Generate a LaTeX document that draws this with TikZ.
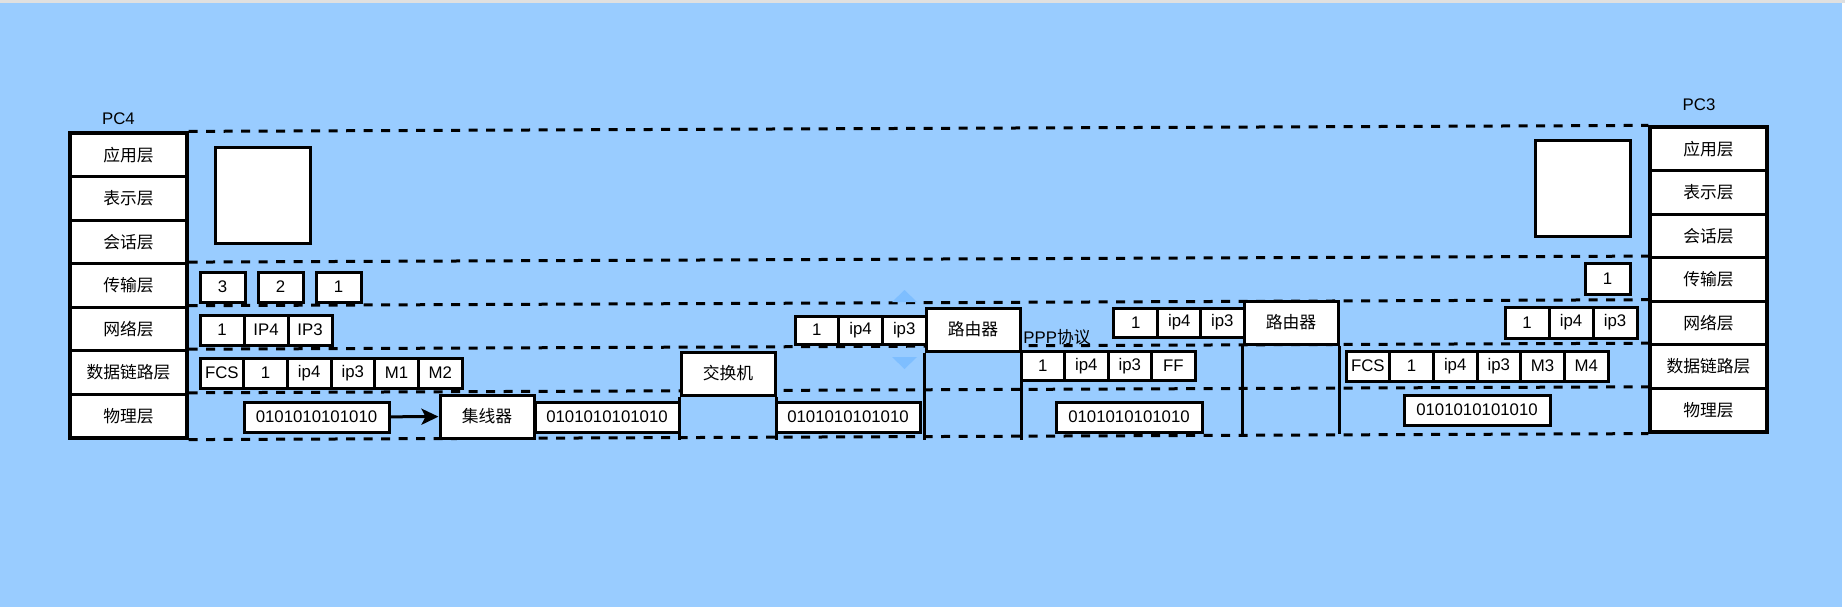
\documentclass[tikz,border=0pt]{standalone}
\usepackage{fontspec}
\setmainfont{Liberation Sans}
\newfontfamily\cjk{Noto Sans CJK SC}
\usetikzlibrary{arrows.meta}
\definecolor{skyback}{HTML}{99CCFF}
\definecolor{hoverblue}{HTML}{7EBEFF}
\newcommand{\labelsize}{\fontsize{16.8}{20}\selectfont}

\tikzset{
  layer/.style = {draw, line width=3.2pt, fill=white, inner sep=0pt, minimum width=117pt, minimum height=43.6pt, font=\labelsize\cjk},
  cell/.style = {draw, line width=3pt, fill=white, inner sep=0pt, minimum width=43.6pt, minimum height=30pt, font=\labelsize},
  bits/.style = {cell, minimum width=145pt},
  device/.style = {draw, line width=3pt, fill=white, inner sep=0pt, minimum width=94pt, minimum height=43pt, font=\labelsize\cjk},
  levelline/.style = {line width=3pt, dash pattern=on 9pt off 8.5pt},
  wire/.style = {line width=3pt},
}

\begin{document}
\begin{tikzpicture}[x=1pt, y=-1pt]
  \useasboundingbox (0,0) rectangle (1845,607);
  \fill[white] (0,0) rectangle (1845,607);
  \fill[black!12] (0,0) rectangle (1845,3);
  \fill[skyback] (0,3) rectangle (1842,607);

  % PC4
  \node[font=\labelsize] (pc4) at (118.5,119) {PC4};
  \node[layer] (l1) at (128.5,154.8) {应用层};
  \node[layer] (l2) at (128.5,198.4) {表示层};
  \node[layer] (l3) at (128.5,241.9) {会话层};
  \node[layer] (l4) at (128.5,285.5) {传输层};
  \node[layer] (l5) at (128.5,329.1) {网络层};
  \node[layer] (l6) at (128.5,372.6) {数据链路层};
  \node[layer] (l7) at (128.5,416.2) {物理层};

  % PC3
  \node[font=\labelsize] (pc3) at (1699,105) {PC3};
  \node[layer] (r1) at (1708.5,148.8) {应用层};
  \node[layer] (r2) at (1708.5,192.4) {表示层};
  \node[layer] (r3) at (1708.5,235.9) {会话层};
  \node[layer] (r4) at (1708.5,279.5) {传输层};
  \node[layer] (r5) at (1708.5,323.1) {网络层};
  \node[layer] (r6) at (1708.5,366.6) {数据链路层};
  \node[layer] (r7) at (1708.5,410.2) {物理层};

  % layer borders
  \draw[levelline] (l1.north east) -- (r1.north west);
  \draw[levelline] (l4.north east) -- (r4.north west);
  \draw[levelline] (l5.north east) -- (r5.north west);
  \draw[levelline] (l6.north east) -- (r6.north west);
  \draw[levelline] (l7.north east) -- (r7.north west);
  \draw[levelline] (l7.south east) -- (r7.south west);

  % sender side
  \node[cell, minimum size=95pt] (appl) at (262.5,195.5) {};
  \node[cell, minimum width=45pt] (t3) at (222.5,287) {3};
  \node[cell, minimum width=45pt] (t2) at (280.5,287) {2};
  \node[cell, minimum width=45pt] (t1) at (338.5,287) {1};
  \node[cell, minimum width=44pt] (n1) at (222,330) {1};
  \node[cell, minimum width=44pt] (n2) at (266,330) {IP4};
  \node[cell, minimum width=44pt] (n3) at (310,330) {IP3};
  \node[cell] (d1) at (221.8,373) {FCS};
  \node[cell] (d2) at (265.5,373) {1};
  \node[cell] (d3) at (309.2,373) {ip4};
  \node[cell] (d4) at (352.8,373) {ip3};
  \node[cell] (d5) at (396.5,373) {M1};
  \node[cell] (d6) at (440.2,373) {M2};
  \node[bits] (b1) at (316.5,417) {0101010101010};

  % hub and switch
  \node[device] (hub) at (487,416.5) {集线器};
  \node[bits, minimum width=144pt] (b2) at (607,417) {0101010101010};
  \node[device] (sw) at (728,373.5) {交换机};
  \node[bits, minimum width=144pt] (b3) at (848,417) {0101010101010};
  \draw[wire, -{Stealth[length=17pt,width=16pt,inset=4pt]}] (b1) -- (hub);
  \draw[wire] (sw.south west) -- (sw.south west |- l7.south east);
  \draw[wire] (sw.south east) -- (sw.south east |- l7.south east);

  % first router
  \fill[hoverblue] (892,302) -- (904.5,290) -- (917,302) -- cycle;
  \fill[hoverblue] (892,357) -- (904.5,369) -- (917,357) -- cycle;
  \node[cell, minimum height=28pt] (m1) at (816.8,330) {1};
  \node[cell, minimum height=28pt] (m2) at (860.5,330) {ip4};
  \node[cell, minimum height=28pt] (m3) at (904.2,330) {ip3};
  \node[device] (rt1) at (973,329.5) {路由器};
  \draw[wire] (rt1.south west) -- (rt1.south west |- l7.south east);
  \draw[wire] (rt1.south east) -- (rt1.south east |- l7.south east);

  % PPP link
  \node[font=\labelsize] (ppp) at (1057,337) {PPP{\cjk 协议}};
  \node[cell, minimum height=29pt] (p1) at (1042.8,366) {1};
  \node[cell, minimum height=29pt] (p2) at (1086.3,366) {ip4};
  \node[cell, minimum height=29pt] (p3) at (1129.8,366) {ip3};
  \node[cell, minimum height=29pt] (p4) at (1173.3,366) {FF};
  \node[bits, minimum width=146pt] (b4) at (1129,417) {0101010101010};

  % second router
  \node[cell, minimum height=29pt] (k1) at (1135.7,322.5) {1};
  \node[cell, minimum height=29pt] (k2) at (1179.3,322.5) {ip4};
  \node[cell, minimum height=29pt] (k3) at (1222.3,322.5) {ip3};
  \node[device] (rt2) at (1291,322.5) {路由器};
  \draw[wire] (rt2.south west) -- (rt2.south west |- r7.south west);
  \draw[wire] (rt2.south east) -- (rt2.south east |- r7.south west);

  % receiver side
  \node[cell] (e1) at (1367.8,366) {FCS};
  \node[cell] (e2) at (1411.5,366) {1};
  \node[cell] (e3) at (1455.2,366) {ip4};
  \node[cell] (e4) at (1498.8,366) {ip3};
  \node[cell] (e5) at (1542.5,366) {M3};
  \node[cell] (e6) at (1586.2,366) {M4};
  \node[bits, minimum width=146pt] (b5) at (1477,410) {0101010101010};
  \node[cell, minimum width=44pt, minimum height=31pt] (s1) at (1527,322.5) {1};
  \node[cell, minimum width=44pt, minimum height=31pt] (s2) at (1571,322.5) {ip4};
  \node[cell, minimum width=44pt, minimum height=31pt] (s3) at (1615,322.5) {ip3};
  \node[cell, minimum width=45pt, minimum height=31pt] (u1) at (1607.5,278.5) {1};
  \node[cell, minimum size=95pt] (appr) at (1582.5,188.5) {};
\end{tikzpicture}
\end{document}
